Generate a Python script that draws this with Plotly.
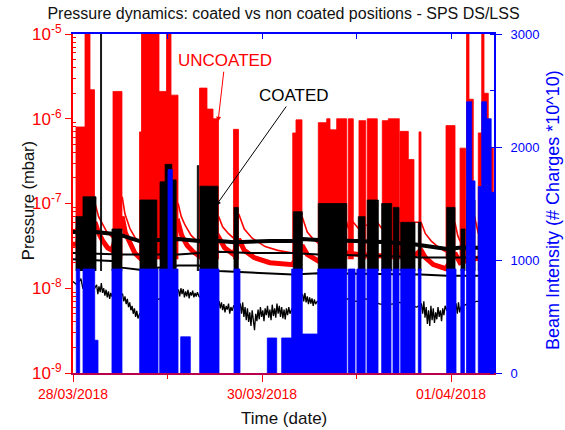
import pandas as pd
import plotly.graph_objects as go

T0 = pd.Timestamp("2018-03-28 00:00")
X_END_H = 106.92

# ---------------- data (times in hours after 28/03/2018 00:00) ----------------
# Beam intensity (# charges *10^10): on-periods
beam_start = [0.84, 2.54, 5.51, 9.90, 16.94, 22.02, 24.13, 25.22, 27.35, 32.18, 40.89, 49.35, 53.00,
              55.54, 58.23, 62.15, 69.92, 72.10, 74.67, 78.40, 81.27, 83.23, 87.70, 94.90, 98.50,
              99.95, 101.25, 102.93, 103.80, 105.00, 106.20]
beam_end = [1.70, 5.51, 6.35, 12.44, 21.59, 24.13, 25.22, 26.67, 29.79, 37.08, 42.41, 51.73, 55.54,
            58.23, 62.15, 69.51, 71.62, 74.20, 77.46, 80.76, 82.79, 86.86, 88.38, 97.27, 99.40,
            101.25, 102.10, 103.80, 105.00, 106.20, 106.92]
beam_level = [920, 920, 290, 920, 920, 920, 1800, 920, 320, 920, 920, 310, 310,
              920, 345, 920, 920, 920, 920, 920, 920, 920, 920, 920, 920,
              2400, 1700, 1650, 2400, 2250, 1600]

# Uncoated (red) pressure bursts: start, end, peak (mbar)
red_burst_start = [0.76, 3.05, 4.32, 10.16, 16.89, 17.40, 21.84, 23.75, 24.89, 32.13, 34.03, 35.56,
                   40.76, 55.80, 56.63, 62.30, 64.43, 65.27, 66.97, 69.92, 72.63, 74.74, 78.55,
                   80.08, 83.05, 85.16, 87.87, 94.73, 98.29, 99.94, 100.57, 102.93, 103.80, 104.38,
                   105.47]
red_burst_end = [3.05, 4.32, 5.46, 12.44, 17.40, 21.84, 23.75, 24.89, 26.67, 34.03, 35.56, 36.95,
                 42.03, 56.63, 58.16, 64.43, 65.27, 66.97, 69.51, 71.19, 74.34, 77.28, 80.08,
                 82.87, 85.16, 86.60, 88.38, 97.02, 99.68, 100.57, 101.66, 103.80, 104.38, 105.47,
                 106.74]
red_burst_peak = [8e-7, 2e-5, 2.2e-6, 2.1e-6, 7e-7, 2e-5, 2.1e-6, 2e-5, 1.9e-6, 2.3e-6, 1.3e-6, 1.0e-6,
                  7.5e-7, 6.8e-7, 9.7e-7, 9e-7, 1e-6, 7.4e-7, 1e-6, 1e-6, 9.5e-7, 1e-6, 9.5e-7,
                  1e-6, 7.1e-7, 3.3e-7, 7e-7, 8.3e-7, 4.5e-7, 2e-5, 1.7e-6, 6.8e-7, 2e-5, 2e-6,
                  4.5e-7]
red_burst_base = 2.2e-8

# Coated (black) pressure bursts
black_burst_start = [0.76, 2.54, 7.00, 9.90, 17.00, 22.10, 23.40, 25.10, 31.57, 32.25, 40.89, 55.95,
                     62.30, 72.46, 74.74, 78.40, 81.35, 83.23, 87.70, 94.91, 98.54, 99.99, 102.93]
black_burst_end = [2.54, 5.84, 7.25, 12.44, 21.30, 23.40, 25.10, 26.20, 31.90, 36.83, 41.98, 58.24,
                   69.51, 74.16, 77.54, 80.94, 82.79, 86.86, 88.38, 97.02, 99.56, 102.10, 106.92]
black_burst_peak = [7e-8, 1.2e-7, 2e-5, 5e-8, 1.1e-7, 1.8e-7, 2.9e-7, 1.9e-7, 2.8e-7, 1.6e-7, 9e-8, 8e-8,
                    1.0e-7, 7e-8, 1.1e-7, 1.0e-7, 9e-8, 6e-8, 6e-8, 9e-8, 5e-8, 1.1e-7, 6e-8]
black_burst_base = 1.6e-8

# Uncoated gauge baselines (red)
red_thin_h = [0.0, 0.76, 5.6, 6.5, 7.6, 8.6, 9.9, 12.5, 13.2, 14.5, 15.7, 16.9, 26.7, 27.5, 28.5, 30.0,
              32.1, 37.0, 38.0, 39.5, 40.8, 42.1, 43.5, 45.5, 48.8, 52.0, 55.8, 58.2, 59.5, 61.0, 62.3,
              69.5, 70.0, 71.2, 72.6, 74.3, 77.3, 78.5, 82.9, 86.6, 88.4, 89.5, 91.0, 93.0, 94.7,
              97.0, 97.7, 98.3, 99.7, 101.7, 102.9, 106.9]
red_thin_p = [4.5e-8, 5e-8, 1.0e-7, 7e-8, 5.5e-8, 4.6e-8, 4.0e-8, 1.2e-7, 7.5e-8, 5.0e-8, 4.0e-8, 3.5e-8,
              1.0e-7, 7e-8, 5.5e-8, 4.2e-8, 3.4e-8, 7e-8, 5.3e-8, 4.4e-8, 3.9e-8, 7.5e-8, 5e-8, 3.9e-8,
              3.1e-8, 2.8e-8, 2.6e-8, 7e-8, 4.6e-8, 3.8e-8, 3.4e-8, 6e-8, 5e-8, 6e-8, 5e-8, 5.5e-8,
              6e-8, 5e-8, 6e-8, 6e-8, 6e-8, 4.4e-8, 3.6e-8, 3.0e-8, 2.7e-8, 6e-8, 4.2e-8, 3.6e-8,
              5e-8, 8e-8, 4.5e-8, 5e-8]
red_band_h = [0.0, 0.76, 5.6, 6.5, 7.6, 8.8, 9.9, 12.5, 13.3, 14.5, 15.7, 16.9, 26.7, 27.6, 29.0, 30.5,
              32.1, 37.0, 38.5, 40.8, 42.1, 43.5, 46.0, 50.0, 55.8, 58.2, 59.5, 62.3, 69.5, 72.6, 77.3,
              82.9, 86.6, 88.4, 89.5, 91.5, 94.7, 97.0, 98.3, 99.7, 102.9, 106.9]
red_band_p = [3.3e-8, 3.3e-8, 6e-8, 4.5e-8, 3.6e-8, 3.0e-8, 2.8e-8, 7e-8, 4.5e-8, 3.3e-8, 2.6e-8, 2.3e-8,
              6e-8, 4.2e-8, 3.2e-8, 2.7e-8, 2.4e-8, 4e-8, 3.0e-8, 2.5e-8, 3.8e-8, 2.8e-8, 2.3e-8,
              2.0e-8, 1.9e-8, 3.2e-8, 2.5e-8, 2.1e-8, 2.6e-8, 2.5e-8, 2.4e-8, 2.5e-8, 2.4e-8, 2.8e-8,
              2.3e-8, 1.9e-8, 1.7e-8, 2.6e-8, 2.0e-8, 2.1e-8, 2.3e-8, 2.5e-8]

# Coated gauge baselines (black)
black_up_h = [0.0, 5.8, 9.9, 12.4, 14.5, 16.9, 26.7, 32.0, 37.0, 41.0, 50.0, 55.8, 58.2, 62.3, 72.0,
              80.0, 86.6, 88.4, 92.0, 95.0, 98.0, 106.9]
black_up_p = [4.6e-8, 4.6e-8, 4.4e-8, 4.2e-8, 3.9e-8, 3.6e-8, 3.8e-8, 3.6e-8, 3.6e-8, 3.5e-8, 3.6e-8,
              3.6e-8, 3.8e-8, 3.7e-8, 3.6e-8, 3.5e-8, 3.3e-8, 3.2e-8, 3.0e-8, 2.9e-8, 3.0e-8, 3.0e-8]
black_mid_h = [0.0, 12.4, 26.7, 37.0, 45.0, 55.8, 62.3, 80.0, 88.4, 95.0, 106.9]
black_mid_p = [2.6e-8, 2.5e-8, 2.5e-8, 2.7e-8, 2.6e-8, 2.6e-8, 2.5e-8, 2.4e-8, 2.3e-8, 2.3e-8, 2.3e-8]
black_low_h = [0.0, 9.9, 12.4, 16.9, 26.7, 32.0, 37.0, 55.8, 62.3, 88.4, 95.0, 106.9]
black_low_p = [2.2e-8, 2.1e-8, 1.75e-8, 1.65e-8, 1.85e-8, 1.85e-8, 1.6e-8, 1.45e-8, 1.5e-8, 1.45e-8,
               1.4e-8, 1.4e-8]
black_noisy_h = [0.0, 1.0, 2.0, 2.5, 4.0, 5.5, 6.0, 6.3, 6.6, 6.9, 7.2, 7.5, 7.8, 8.1, 8.4, 8.7, 9.0,
                 9.3, 9.6, 9.9, 11.0, 12.6, 12.9, 13.2, 13.5, 13.8, 14.1, 14.4, 14.7, 15.0, 15.3, 15.6,
                 15.9, 16.2, 16.5, 16.9, 20.0, 24.0, 26.8, 27.1, 27.4, 27.7, 28.0, 28.3, 28.6, 28.9,
                 29.2, 29.5, 29.8, 30.1, 30.4, 30.7, 31.0, 31.3, 31.6, 32.0, 34.0, 37.1, 37.4, 37.7,
                 38.0, 38.3, 38.6, 38.9, 39.2, 39.5, 39.8, 40.1, 40.4, 40.8, 42.5, 42.8, 43.1, 43.4,
                 43.7, 44.0, 44.3, 44.6, 44.9, 45.2, 45.5, 45.8, 46.1, 46.4, 46.7, 47.0, 47.3, 47.6,
                 47.9, 48.2, 48.5, 48.8, 49.1, 49.4, 49.7, 50.0, 50.3, 50.6, 50.9, 51.2, 51.5, 51.8,
                 52.1, 52.4, 52.7, 53.0, 53.3, 53.6, 53.9, 54.2, 54.5, 54.8, 55.1, 55.5, 57.0, 58.3,
                 58.6, 58.9, 59.2, 59.5, 59.8, 60.1, 60.4, 60.7, 61.0, 61.3, 61.6, 62.0, 64.0, 69.7,
                 71.8, 74.4, 78.0, 81.0, 83.0, 87.3, 88.5, 88.8, 89.1, 89.4, 89.7, 90.0, 90.3, 90.6,
                 90.9, 91.2, 91.5, 91.8, 92.1, 92.4, 92.7, 93.0, 93.3, 93.6, 93.9, 94.2, 94.5, 94.9,
                 97.3, 97.6, 97.9, 98.2, 98.5, 100.0, 102.5, 106.9]
black_noisy_p = [1.2e-8, 1.1e-8, 1.3e-8, 1.0e-8, 9e-9, 1.0e-8, 1.1e-8, 8.5e-9, 1.05e-8, 9e-9, 1.15e-8,
                 8.8e-9, 1.0e-8, 8.2e-9, 9.6e-9, 7.8e-9, 9.2e-9, 7.5e-9, 8.8e-9, 8e-9, 8e-9, 8.5e-9,
                 7e-9, 8e-9, 6.5e-9, 7.5e-9, 6e-9, 6.8e-9, 5.5e-9, 6.2e-9, 5e-9, 5.8e-9, 4.6e-9, 5.4e-9,
                 4.4e-9, 5e-9, 7e-9, 8e-9, 9.5e-9, 8e-9, 1.0e-8, 8.5e-9, 9.8e-9, 7.8e-9, 9.2e-9, 8e-9,
                 9.6e-9, 7.6e-9, 9e-9, 8.2e-9, 9.4e-9, 7.8e-9, 8.8e-9, 8e-9, 9e-9, 8e-9, 7e-9, 7e-9,
                 5.8e-9, 6.8e-9, 5.5e-9, 6.5e-9, 5.2e-9, 6.2e-9, 5.6e-9, 6.6e-9, 5e-9, 6e-9, 5.4e-9,
                 6.2e-9, 6.5e-9, 5e-9, 6.8e-9, 4.6e-9, 6e-9, 4.2e-9, 5.8e-9, 4e-9, 5.2e-9, 3.6e-9,
                 5.5e-9, 4.4e-9, 3.2e-9, 5e-9, 4.1e-9, 5.6e-9, 4.3e-9, 6e-9, 4.6e-9, 5.5e-9, 4.1e-9,
                 5.8e-9, 4.8e-9, 6.2e-9, 4.5e-9, 5.6e-9, 4.2e-9, 6.4e-9, 4.7e-9, 5.8e-9, 4.5e-9,
                 6.6e-9, 5e-9, 6.2e-9, 4.6e-9, 6e-9, 4.4e-9, 5.6e-9, 4.3e-9, 5.8e-9, 4.8e-9, 6e-9, 5e-9,
                 5.6e-9, 7e-9, 8.5e-9, 7e-9, 8.8e-9, 6.8e-9, 8e-9, 6.5e-9, 7.8e-9, 6.6e-9, 7.6e-9,
                 6.2e-9, 7.4e-9, 6.5e-9, 7e-9, 7e-9, 7.5e-9, 7e-9, 7.5e-9, 6.5e-9, 6.5e-9, 6.8e-9,
                 6e-9, 6.5e-9, 5e-9, 7e-9, 4.5e-9, 6e-9, 3.8e-9, 5.5e-9, 3.6e-9, 6.2e-9, 4.2e-9, 5.8e-9,
                 3.9e-9, 5.2e-9, 4.3e-9, 6e-9, 4.6e-9, 5.5e-9, 4.1e-9, 5.8e-9, 4.8e-9, 6.2e-9, 5.5e-9,
                 6.5e-9, 5e-9, 6.8e-9, 5.2e-9, 6e-9, 6.5e-9, 7e-9, 7e-9]

decade_vals = [1e-9, 1e-8, 1e-7, 1e-6, 1e-5]
decade_text = ["10<sup>-9</sup>", "10<sup>-8</sup>", "10<sup>-7</sup>", "10<sup>-6</sup>", "10<sup>-5</sup>"]
date_fmt = "%d/%m/%Y"


# ---------------- helpers ----------------
def t(h):
    return None if h is None else T0 + pd.Timedelta(hours=h)


def blocks(starts, ends, tops, base):
    xs, ys = [], []
    for a, b, top in zip(starts, ends, tops):
        xs += [t(a), t(a), t(b), t(b), None]
        ys += [base, top, top, base, None]
    return xs, ys


RED = "#ff0000"
BLUE = "#0000ff"
FONT = "Liberation Sans, Arial, sans-serif"

fig = go.Figure()

# uncoated (red) first
rx, ry = blocks(red_burst_start, red_burst_end, red_burst_peak, red_burst_base)
fig.add_trace(go.Scatter(x=rx, y=ry, mode="lines", fill="toself", fillcolor=RED,
                         line=dict(color=RED, width=0.8), hoverinfo="skip", showlegend=False))
fig.add_trace(go.Scatter(x=[t(h) for h in red_band_h], y=red_band_p, mode="lines",
                         line=dict(color=RED, width=5), showlegend=False))
fig.add_trace(go.Scatter(x=[t(h) for h in red_thin_h], y=red_thin_p, mode="lines",
                         line=dict(color=RED, width=1.6), showlegend=False))

# coated (black) on top
bx, by = blocks(black_burst_start, black_burst_end, black_burst_peak, black_burst_base)
fig.add_trace(go.Scatter(x=bx, y=by, mode="lines", fill="toself", fillcolor="black",
                         line=dict(color="black", width=0.8), hoverinfo="skip", showlegend=False))
fig.add_trace(go.Scatter(x=[t(h) for h in black_noisy_h], y=black_noisy_p, mode="lines",
                         line=dict(color="black", width=1.3), showlegend=False))
fig.add_trace(go.Scatter(x=[t(h) for h in black_low_h], y=black_low_p, mode="lines",
                         line=dict(color="black", width=2), showlegend=False))
fig.add_trace(go.Scatter(x=[t(h) for h in black_mid_h], y=black_mid_p, mode="lines",
                         line=dict(color="black", width=2), showlegend=False))
fig.add_trace(go.Scatter(x=[t(h) for h in black_up_h], y=black_up_p, mode="lines",
                         line=dict(color="black", width=4), showlegend=False))

# beam intensity on secondary axes (drawn on top)
qx, qy = blocks(beam_start, beam_end, beam_level, 0)
fig.add_trace(go.Scatter(x=qx, y=qy, mode="lines", fill="toself", fillcolor=BLUE,
                         line=dict(color=BLUE, width=0.8), xaxis="x2", yaxis="y2",
                         hoverinfo="skip", showlegend=False))

x_range = [t(0), t(X_END_H)]
minor_log = [m * 10.0 ** e for e in range(-9, -5) for m in range(2, 10)]

fig.update_layout(
    width=565, height=430,
    margin=dict(l=73, r=71, t=34, b=57),
    paper_bgcolor="white", plot_bgcolor="white",
    font=dict(family=FONT, color="black"),
    title=dict(text="Pressure dynamics: coated vs non coated positions - SPS DS/LSS",
               font=dict(size=16, color="#111111", family=FONT),
               x=0.5, xref="paper", y=1 - 13.5 / 430, yref="container", yanchor="middle"),
    xaxis=dict(type="date", range=x_range, showgrid=False, zeroline=False,
               showline=True, linecolor="#b8004f", linewidth=2,
               tickmode="linear", tick0=t(0), dtick=2 * 86400000, tickformat=date_fmt,
               ticks="outside", ticklen=7, tickcolor=RED, tickwidth=1,
               tickfont=dict(size=14, color=RED, family=FONT),
               minor=dict(ticks="outside", ticklen=4, tickcolor=RED, dtick=86400000, tick0=t(0))),
    xaxis2=dict(type="date", overlaying="x", matches="x", side="top", anchor="y",
                range=x_range, showgrid=False, zeroline=False, showticklabels=False,
                showline=True, linecolor=BLUE, linewidth=2,
                tickmode="linear", tick0=t(0), dtick=86400000,
                ticks="inside", ticklen=5, tickcolor=BLUE),
    yaxis=dict(type="log", range=[-9, -5], showgrid=False, zeroline=False,
               showline=True, linecolor=RED, linewidth=2,
               tickmode="array", tickvals=decade_vals, ticktext=decade_text,
               ticks="outside", ticklen=6, tickcolor=RED,
               tickfont=dict(size=17, color=RED, family=FONT),
               minor=dict(tickmode="array", tickvals=minor_log, ticks="inside", ticklen=3,
                          tickcolor=RED)),
    yaxis2=dict(overlaying="y", side="right", anchor="x", range=[0, 3000],
                showgrid=False, zeroline=False, showline=True, linecolor=BLUE, linewidth=2,
                tickmode="linear", tick0=0, dtick=1000,
                ticks="outside", ticklen=6, tickcolor=BLUE, ticklabelstandoff=6,
                tickfont=dict(size=13, color=BLUE, family=FONT),
                minor=dict(ticks="inside", ticklen=4, tickcolor=BLUE, dtick=500, tick0=0)),
    annotations=[
        dict(text="Time (date)", xref="paper", yref="paper", x=0.5, y=(373 - 419) / 339,
             xanchor="center", yanchor="middle", showarrow=False,
             font=dict(size=17, color="#111111", family=FONT)),
        dict(text="Pressure (mbar)", xref="paper", yref="paper", x=(28 - 73) / 421, y=0.507,
             xanchor="center", yanchor="middle", showarrow=False, textangle=-90,
             font=dict(size=16.5, color="#111111", family=FONT)),
        dict(text="Beam Intensity (# Charges *10^10)", xref="paper", yref="paper",
             x=(553 - 73) / 421, y=0.481, xanchor="center", yanchor="middle",
             showarrow=False, textangle=-90, font=dict(size=18, color=BLUE, family=FONT)),
        dict(text="UNCOATED", x=t(36.83), y=-6.035, xref="x", yref="y",
             showarrow=True, ax=7, ay=-61, arrowcolor=RED, arrowwidth=1, arrowhead=2,
             arrowsize=1, font=dict(size=17, color=RED, family=FONT)),
        dict(text="COATED", x=t(36.32), y=-7.024, xref="x", yref="y",
             showarrow=True, ax=78, ay=-110, arrowcolor="black", arrowwidth=1, arrowhead=2,
             arrowsize=1, font=dict(size=17, color="black", family=FONT)),
    ],
)

fig.write_html("out.html", config={"displayModeBar": False},
               post_script="document.body.style.margin='0';document.body.style.overflow='hidden';")
